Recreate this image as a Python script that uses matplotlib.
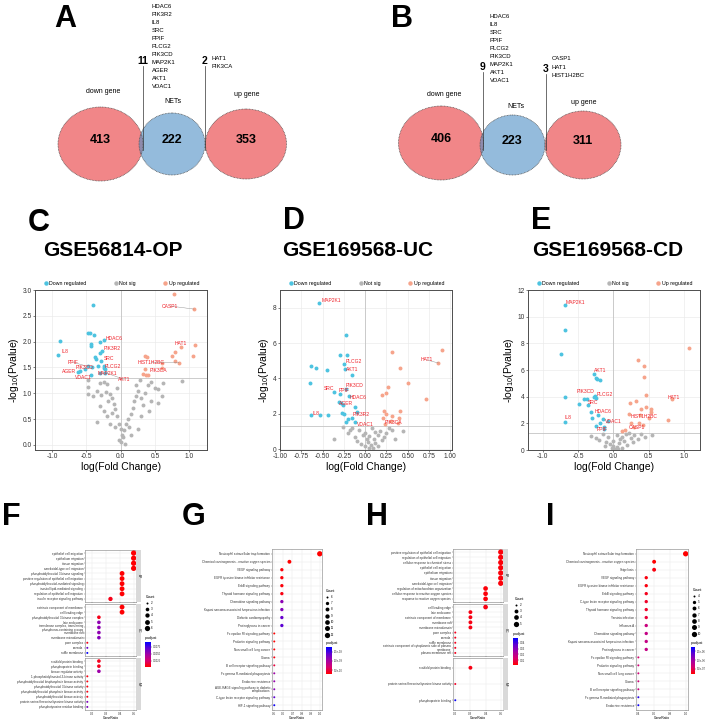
import numpy as np
import matplotlib.pyplot as plt
from matplotlib.patches import Ellipse
from matplotlib.lines import Line2D
from matplotlib.colors import LinearSegmentedColormap, Normalize
from matplotlib.cm import ScalarMappable

plt.rcParams['font.family'] = ['Liberation Sans', 'DejaVu Sans']

W, H = 709, 722

# ------------------------------------------
# VENN DATA
# ------------------------------------------
venn_sets = ['down gene', 'NETs', 'up gene']
venn_a_counts = [413, 222, 353]
venn_a_down = ['HDAC6', 'PIK3R2', 'IL8', 'SRC', 'PPIF', 'PLCG2', 'PIK3CD', 'MAP2K1', 'AGER', 'AKT1', 'VDAC1']
venn_a_up = ['HAT1', 'PIK3CA']
venn_b_counts = [406, 223, 311]
venn_b_down = ['HDAC6', 'IL8', 'SRC', 'PPIF', 'PLCG2', 'PIK3CD', 'MAP2K1', 'AKT1', 'VDAC1']
venn_b_up = ['CASP1', 'HAT1', 'HIST1H2BC']

# ------------------------------------------
# VOLCANO DATA  (logFC, -log10 P)
# ------------------------------------------
c_down_x = [-0.91, -0.89, -0.41, -0.47, -0.45, -0.39, -0.44, -0.43, -0.30, -0.25, -0.30, -0.27, -0.37, -0.36,
            -0.28, -0.25, -0.24, -0.23, -0.33, -0.48, -0.42, -0.62, -0.60, -0.44, -0.30, -0.23, -0.52]
c_down_y = [1.75, 2.02, 2.71, 2.17, 2.16, 2.13, 1.96, 1.91, 2.00, 2.03, 1.78, 1.81, 1.71, 1.67,
            1.63, 1.53, 1.49, 1.46, 1.52, 1.52, 1.50, 1.41, 1.44, 1.35, 1.40, 1.40, 1.47]
c_up_x = [0.78, 1.07, 1.09, 0.88, 0.80, 0.75, 1.05, 0.35, 0.39, 0.79, 0.61, 0.85, 0.35, 0.32, 0.37, 0.40, 0.61]
c_up_y = [2.92, 2.63, 1.94, 1.89, 1.79, 1.73, 1.73, 1.73, 1.71, 1.63, 1.58, 1.59, 1.47, 1.38, 1.35, 1.35, 1.49]
c_ns_x = [-0.48, -0.47, -0.47, -0.30, -0.25, -0.20, -0.35, -0.28, -0.22, -0.15, -0.12, -0.18, -0.10, -0.30, -0.25,
          -0.20, -0.12, -0.08, -0.05, -0.15, -0.08, -0.03, 0.00, 0.02, -0.02, 0.00, 0.03, 0.05, 0.08, 0.10, 0.12,
          0.15, 0.18, 0.20, 0.22, 0.25, 0.22, 0.28, 0.30, 0.32, 0.35, 0.40, 0.45, 0.50, 0.55, 0.60, 0.62, 0.55,
          0.42, 0.30, -0.35, -0.40, 0.15, 0.25, 0.89, 0.45, -0.05, 0.06]
c_ns_y = [1.25, 1.13, 0.99, 1.20, 1.22, 1.18, 1.05, 0.96, 1.02, 0.98, 0.90, 0.85, 0.80, 0.75, 0.65,
          0.55, 0.62, 0.70, 0.55, 0.40, 0.35, 0.40, 0.30, 0.20, 0.10, 0.05, 0.15, 0.28, 0.40, 0.50, 0.35,
          0.60, 0.72, 0.85, 0.95, 1.05, 1.15, 1.25, 0.90, 0.78, 1.00, 1.15, 1.22, 1.10, 1.08, 0.95, 1.20, 0.82,
          0.65, 0.55, 0.45, 0.95, 0.20, 0.30, 1.23, 0.85, 1.10, 0.02]
c_lab_genes = ['IL8', 'HDAC6', 'PIK3R2', 'SRC', 'PLCG2', 'PPIF', 'PIK3CD', 'AGER', 'VDAC1', 'MAP2K1', 'AKT1',
               'CASP1', 'HAT1', 'HIST1H2BC', 'PIK3CA']
c_lab_x = [-0.91, -0.25, -0.27, -0.28, -0.25, -0.48, -0.42, -0.62, -0.44, -0.30, -0.23, 1.07, 0.88, 0.85, 0.40]
c_lab_y = [1.75, 2.03, 1.81, 1.63, 1.53, 1.52, 1.50, 1.41, 1.35, 1.40, 1.40, 2.63, 1.89, 1.59, 1.35]
c_lab_tx = [-0.82, -0.10, -0.12, -0.17, -0.11, -0.70, -0.53, -0.75, -0.54, -0.19, 0.05, 0.72, 0.88, 0.45, 0.55]
c_lab_ty = [1.81, 2.07, 1.86, 1.67, 1.52, 1.60, 1.49, 1.42, 1.30, 1.38, 1.27, 2.69, 1.96, 1.60, 1.44]
c_lab_seg = [0, 0, 0, 0, 0, 1, 0, 0, 0, 0, 1, 1, 0, 1, 0]

d_down_x = [-0.54, -0.23, -0.29, -0.21, -0.25, -0.24, -0.16, -0.64, -0.58, -0.45, -0.65, -0.36, -0.30, -0.23,
            -0.19, -0.31, -0.28, -0.26, -0.12, -0.09, -0.64, -0.53, -0.44, -0.27, -0.25, -0.15, -0.12, -0.20,
            -0.23]
d_down_y = [8.28, 6.46, 5.30, 5.30, 4.80, 4.55, 4.17, 4.68, 4.56, 4.49, 3.73, 3.25, 3.10, 3.40,
            3.00, 2.69, 2.63, 2.50, 2.37, 2.12, 1.92, 1.91, 1.91, 2.03, 1.98, 1.75, 1.55, 1.70,
            1.55]
d_up_x = [0.32, 0.90, 0.86, 0.41, 0.50, 0.27, 0.24, 0.20, 0.71, 0.22, 0.41, 0.25, 0.32, 0.40, 0.21, 0.23,
          0.30, 0.38]
d_up_y = [5.47, 5.62, 4.87, 4.58, 3.73, 3.51, 3.20, 3.07, 2.82, 2.18, 2.16, 1.96, 1.85, 1.78, 1.78, 1.42,
          1.60, 1.50]
d_ns_x = [-0.36, -0.26, -0.18, -0.12, 0.45, -0.07, 0.00, 0.05, 0.10, 0.03, 0.07, 0.00, 0.04, 0.12, 0.15,
          0.18, 0.20, 0.25, 0.28, 0.32, -0.05, -0.10, 0.08, 0.12, 0.22, 0.35, -0.20, -0.15, 0.02, 0.15,
          0.09, -0.03]
d_ns_y = [0.57, 1.27, 1.08, 0.68, 1.02, 1.10, 0.90, 0.75, 0.60, 0.40, 0.25, 0.15, 0.05, 0.35, 0.80,
          1.00, 0.50, 0.90, 1.20, 1.10, 0.30, 0.45, 1.20, 0.95, 0.70, 0.60, 0.90, 1.20, 0.60, 0.20,
          0.05, 0.80]
d_lab_genes = ['MAP2K1', 'PLCG2', 'AKT1', 'HAT1', 'SRC', 'PIK3CD', 'PPIF', 'HDAC6', 'AGER', 'IL8', 'PIK3R2',
               'VDAC1', 'PIK3CA']
d_lab_x = [-0.54, -0.25, -0.24, 0.86, -0.36, -0.23, -0.30, -0.19, -0.28, -0.64, -0.15, -0.12, 0.23]
d_lab_y = [8.28, 4.80, 4.55, 4.87, 3.25, 3.40, 3.10, 3.00, 2.63, 1.92, 1.75, 1.55, 1.42]
d_lab_tx = [-0.40, -0.13, -0.15, 0.72, -0.42, -0.12, -0.25, -0.08, -0.22, -0.58, -0.05, 0.00, 0.33]
d_lab_ty = [8.40, 4.98, 4.49, 5.05, 3.41, 3.62, 3.33, 2.94, 2.60, 2.02, 1.93, 1.40, 1.50]
d_lab_seg = [0, 0, 0, 1, 0, 0, 0, 0, 0, 0, 0, 0, 0]

e_down_x = [-0.68, -0.69, -0.74, -0.27, -0.25, -0.23, -0.19, -0.68, -0.26, -0.27, -0.25, -0.41, -0.37, -0.48,
            -0.36, -0.32, -0.22, -0.15, -0.69, -0.19, -0.25, -0.13, -0.13, -0.08, -0.30]
e_down_y = [10.90, 8.97, 7.17, 5.69, 5.39, 5.34, 5.26, 3.96, 4.06, 3.95, 3.90, 3.83, 3.80, 3.48,
            3.36, 2.86, 2.66, 2.35, 2.13, 2.00, 1.80, 1.73, 1.55, 2.20, 2.40]
e_up_x = [1.07, 0.35, 0.44, 0.44, 0.46, 0.83, 0.23, 0.32, 0.46, 0.40, 0.54, 0.54, 0.22, 0.38, 0.50, 0.30,
          0.37, 0.16, 0.77, 0.25, 0.42, 0.12]
e_up_y = [7.64, 6.77, 6.32, 5.44, 4.11, 3.83, 3.51, 3.66, 3.26, 3.11, 3.06, 2.88, 2.68, 2.65, 2.40, 1.75,
          2.03, 1.50, 2.26, 2.00, 1.90, 1.40]
e_ns_x = [-0.32, -0.25, -0.20, -0.15, -0.10, -0.05, 0.00, 0.02, 0.05, 0.08, 0.10, 0.12, 0.15, 0.18, 0.20,
          0.25, 0.30, 0.35, 0.40, 0.45, 0.55, -0.08, 0.00, 0.05, -0.02, 0.07, 0.28, 0.22, -0.12, 0.13]
e_ns_y = [1.05, 0.90, 0.75, 1.20, 0.60, 0.45, 0.30, 0.10, 0.20, 0.50, 0.80, 1.00, 0.65, 1.20, 0.35,
          0.90, 1.10, 0.80, 1.20, 1.00, 1.15, 1.00, 0.70, 1.10, 0.15, 0.05, 0.60, 1.25, 0.30, 0.15]
e_lab_genes = ['MAP2K1', 'AKT1', 'PIK3CD', 'PLCG2', 'SRC', 'HDAC6', 'HAT1', 'HIST1H2BC', 'IL8', 'VDAC1',
               'PPIF', 'CASP1']
e_lab_x = [-0.68, -0.27, -0.27, -0.26, -0.36, -0.22, 0.83, 0.50, -0.69, -0.19, -0.13, 0.30]
e_lab_y = [10.90, 5.69, 3.95, 4.06, 3.36, 2.66, 3.83, 2.40, 2.13, 2.00, 1.55, 1.75]
e_lab_tx = [-0.54, -0.19, -0.40, -0.12, -0.29, -0.15, 0.86, 0.44, -0.65, 0.00, -0.16, 0.34]
e_lab_ty = [11.07, 6.00, 4.38, 4.13, 3.58, 2.86, 3.96, 2.50, 2.43, 2.13, 1.56, 1.71]
e_lab_seg = [0, 0, 0, 0, 0, 0, 0, 0, 0, 0, 0, 0]

# ------------------------------------------
# ENRICHMENT DATA
# ------------------------------------------
f_bp_terms = ['epithelial cell migration', 'epithelium migration', 'tissue migration',
              'ameboidal-type cell migration', 'phosphatidylinositol 3-kinase signaling',
              'positive regulation of epithelial cell migration', 'phosphatidylinositol-mediated signaling',
              'inositol lipid-mediated signaling', 'regulation of epithelial cell migration',
              'insulin receptor signaling pathway']
f_bp_counts = [6, 6, 6, 6, 5, 5, 5, 5, 5, 4]
f_bp_padj = [0.0004, 0.0004, 0.0004, 0.0004, 0.0004, 0.0004, 0.0004, 0.0004, 0.0004, 0.0008]
f_cc_terms = ['extrinsic component of membrane', 'cell leading edge', 'phosphatidylinositol 3-kinase complex',
              'late endosome', 'transferase complex, transferring\nphosphorus-containing groups', 'membrane raft',
              'membrane microdomain', 'pore complex', 'caveola', 'ruffle membrane']
f_cc_counts = [5, 5, 3, 3, 3, 3, 3, 2, 2, 2]
f_cc_padj = [0.0004, 0.0004, 0.0008, 0.0055, 0.0055, 0.0055, 0.0058, 0.0008, 0.0068, 0.0092]
f_mf_terms = ['scaffold protein binding', 'phosphoprotein binding', 'kinase regulator activity',
              '1-phosphatidylinositol-3-kinase activity', 'phosphatidylinositol bisphosphate kinase activity',
              'phosphatidylinositol 3-kinase activity', 'phosphatidylinositol phosphate kinase activity',
              'phosphatidylinositol kinase activity', 'protein serine/threonine/tyrosine kinase activity',
              'phosphotyrosine residue binding']
f_mf_counts = [3, 3, 3, 2, 2, 2, 2, 2, 2, 2]
f_mf_padj = [0.0009, 0.0009, 0.0050, 0.0006, 0.0006, 0.0006, 0.0007, 0.0008, 0.0060, 0.0062]

g_terms = ['Neutrophil extracellular trap formation', 'Chemical carcinogenesis - reactive oxygen species',
           'VEGF signaling pathway', 'EGFR tyrosine kinase inhibitor resistance', 'ErbB signaling pathway',
           'Thyroid hormone signaling pathway', 'Chemokine signaling pathway',
           'Kaposi sarcoma-associated herpesvirus infection', 'Diabetic cardiomyopathy', 'Proteoglycans in cancer',
           'Fc epsilon RI signaling pathway', 'Prolactin signaling pathway', 'Non-small cell lung cancer', 'Glioma',
           'B cell receptor signaling pathway', 'Fc gamma R-mediated phagocytosis', 'Endocrine resistance',
           'AGE-RAGE signaling pathway in diabetic\ncomplications', 'C-type lectin receptor signaling pathway',
           'HIF-1 signaling pathway']
g_counts = [12, 8, 7, 7, 7, 7, 7, 7, 7, 7, 6, 6, 6, 6, 6, 6, 6, 6, 6, 6]
g_padj = [3.0e-10, 3.0e-10, 3.3e-10, 3.3e-10, 3.3e-10, 3.6e-10, 1.15e-09, 1.2e-09, 1.35e-09, 1.4e-09,
          3.0e-10, 3.0e-10, 3.2e-10, 3.5e-10, 5.0e-10, 1.05e-09, 1.1e-09, 1.15e-09, 1.4e-09, 1.7e-09]

h_bp_terms = ['positive regulation of epithelial cell migration', 'regulation of epithelial cell migration',
              'cellular response to chemical stress', 'epithelial cell migration', 'epithelium migration',
              'tissue migration', 'ameboidal-type cell migration', 'regulation of mitochondrion organization',
              'cellular response to reactive oxygen species', 'response to reactive oxygen species']
h_bp_counts = [5, 5, 5, 5, 5, 5, 5, 4, 4, 4]
h_bp_padj = [0.003] * 10
h_cc_terms = ['cell leading edge', 'late endosome', 'extrinsic component of membrane', 'membrane raft',
              'membrane microdomain', 'pore complex', 'caveola', 'ruffle membrane',
              'extrinsic component of cytoplasmic side of plasma\nmembrane', 'plasma membrane raft']
h_cc_counts = [4, 3, 3, 3, 3, 2, 2, 2, 2, 2]
h_cc_padj = [0.004, 0.004, 0.004, 0.004, 0.004, 0.005, 0.005, 0.005, 0.005, 0.005]
h_mf_terms = ['scaffold protein binding', 'protein serine/threonine/tyrosine kinase activity',
              'phosphoprotein binding']
h_mf_counts = [3, 2, 2]
h_mf_padj = [0.004, 0.006, 0.047]

i_terms = ['Neutrophil extracellular trap formation', 'Chemical carcinogenesis - reactive oxygen species',
           'Shigellosis', 'VEGF signaling pathway', 'EGFR tyrosine kinase inhibitor resistance',
           'ErbB signaling pathway', 'C-type lectin receptor signaling pathway', 'Thyroid hormone signaling pathway',
           'Yersinia infection', 'Influenza A', 'Chemokine signaling pathway',
           'Kaposi sarcoma-associated herpesvirus infection', 'Proteoglycans in cancer',
           'Fc epsilon RI signaling pathway', 'Prolactin signaling pathway', 'Non-small cell lung cancer', 'Glioma',
           'B cell receptor signaling pathway', 'Fc gamma R-mediated phagocytosis', 'Endocrine resistance']
i_counts = [10, 6, 6, 5, 5, 5, 5, 5, 5, 5, 5, 5, 5, 4, 4, 4, 4, 4, 4, 4]
i_padj = [2.0e-07, 2.0e-07, 2.5e-07, 2.5e-07, 2.5e-07, 3.0e-07, 3.5e-07, 3.5e-07, 4.0e-07, 7.0e-07,
          7.5e-07, 7.5e-07, 7.5e-07, 6.0e-07, 6.5e-07, 6.5e-07, 6.5e-07, 7.0e-07, 1.6e-06, 1.7e-06]

# ------------------------------------------
# STYLE
# ------------------------------------------
RED_SET = '#F18688'
BLUE_SET = '#4D8EC5'
DOWN_COL = '#4DC3E0'
UP_COL = '#F6A48B'
NS_COL = '#B5B5B5'
LAB_COL = '#F0232B'
pcmap = LinearSegmentedColormap.from_list('padj', ['#FF0000', '#D8006E', '#A400A4', '#6000D2', '#0000FF'])


def rect(l, t, r, b):
    return [l / W, 1 - b / H, (r - l) / W, (b - t) / H]


fig = plt.figure(figsize=(W / 100, H / 100), dpi=100)
bg = fig.add_axes([0, 0, 1, 1])
bg.set_xlim(0, W)
bg.set_ylim(H, 0)
bg.axis('off')

# panel letters
for lab, (x, y) in zip('ABCDEFGHI', [(65, 19), (402, 19), (39, 223), (294, 221), (541, 221),
                                     (11, 517), (194, 517), (377, 517), (550, 517)]):
    bg.text(x, y, lab, fontsize=22, fontweight='bold', ha='center', va='center')


# ------------------------------------------
# VENN
# ------------------------------------------
def draw_venn(counts, down_genes, up_genes, shapes, set_xy, down_line, up_line):
    for i, (cx, cy, w, h) in enumerate(shapes):
        if i != 1:
            bg.add_patch(Ellipse((cx, cy), w, h, fc=RED_SET, ec='none'))
    cx, cy, w, h = shapes[1]
    bg.add_patch(Ellipse((cx, cy), w, h, fc=BLUE_SET, alpha=0.6, ec='none'))
    for cx, cy, w, h in shapes:
        bg.add_patch(Ellipse((cx, cy), w, h, fill=False, ec='#4a4a4a', lw=0.5, ls=(0, (1.2, 1.0))))
    for (cx, cy, w, h), n in zip(shapes, counts):
        bg.text(cx, cy - 4, str(n), fontsize=9, fontweight='bold', ha='center', va='center')
    for (x, y), name in zip(set_xy, venn_sets):
        bg.text(x, y, name, fontsize=5, ha='center', va='center')
    for genes, (lx, y0, y1, gx, gy) in [(down_genes, down_line), (up_genes, up_line)]:
        bg.plot([lx, lx], [y0, y1], color='#333333', lw=0.5)
        bg.text(lx, y0 - 5, str(len(genes)), fontsize=7.5, fontweight='bold', ha='center', va='center')
        for k, g in enumerate(genes):
            bg.text(gx, gy + 8.1 * k, g, fontsize=4.3, ha='left', va='center')


draw_venn(venn_a_counts, venn_a_down, venn_a_up,
          [(100.5, 144, 85, 74), (172, 144, 66, 62), (246, 144, 81, 70)],
          [(103, 91.5), (173, 101.5), (247, 94)],
          (143, 66, 150, 152, 6), (205, 66, 150, 212, 58))
draw_venn(venn_b_counts, venn_b_down, venn_b_up,
          [(441, 143, 85, 74), (512.5, 145, 65, 60), (583, 145, 76, 68)],
          [(444, 95), (516, 107), (584, 102)],
          (483, 72, 150, 490, 16), (546, 74, 150, 552, 59))


# ------------------------------------------
# VOLCANO
# ------------------------------------------
def volcano(box, down, ns, up, labs, xlim, ylim, xticks, yticks, xfmt, yfmt, title, title_x):
    ax = fig.add_axes(rect(*box))
    ax.scatter(ns[0], ns[1], s=8, color=NS_COL, lw=0, zorder=2)
    ax.scatter(down[0], down[1], s=8, color=DOWN_COL, lw=0, zorder=3)
    ax.scatter(up[0], up[1], s=8, color=UP_COL, lw=0, zorder=3)
    ax.axhline(-np.log10(0.05), color='#C4C4C4', lw=0.6, zorder=1)
    ax.axvline(0, color='#C4C4C4', lw=0.6, zorder=1)
    genes, px, py, tx, ty, seg = labs
    for g, a, b, c, d, s in zip(genes, px, py, tx, ty, seg):
        if s:
            ax.plot([a, c], [b, d], color='#888888', lw=0.3, zorder=3)
        ax.text(c, d, g, color=LAB_COL, fontsize=3.6, ha='center', va='center', zorder=4)
    ax.set_xlim(xlim)
    ax.set_ylim(ylim)
    ax.set_xticks(xticks)
    ax.set_xticklabels([xfmt.format(v) for v in xticks])
    ax.set_yticks(yticks)
    ax.set_yticklabels([yfmt.format(v) for v in yticks])
    ax.grid(color='#EBEBEB', lw=0.5)
    ax.set_axisbelow(True)
    for sp in ax.spines.values():
        sp.set_color('#4D4D4D')
        sp.set_linewidth(0.7)
    ax.tick_params(labelsize=4.8, length=1.5, width=0.5, pad=1, colors='#4D4D4D', labelcolor='#333333')
    ax.set_xlabel('log(Fold Change)', fontsize=7.5, labelpad=1)
    ax.set_ylabel('-log$\\mathregular{_{10}}$(Pvalue)', fontsize=7.5, labelpad=1)
    handles = [Line2D([], [], ls='', marker='o', color=c, markersize=3.2, mew=0) for c in (DOWN_COL, NS_COL, UP_COL)]
    ax.legend(handles, ['Down regulated', 'Not sig', 'Up regulated'], ncol=3, loc='lower center',
              bbox_to_anchor=(0.5, 1.0), frameon=False, fontsize=3.8, handletextpad=0.2, columnspacing=5.0,
              handlelength=1.0, borderpad=0.3)
    bg.text(title_x, 250, title, fontsize=15, fontweight='bold', ha='center', va='center')
    return ax


volcano((35, 290, 207, 450), (c_down_x, c_down_y), (c_ns_x, c_ns_y), (c_up_x, c_up_y),
        (c_lab_genes, c_lab_x, c_lab_y, c_lab_tx, c_lab_ty, c_lab_seg),
        (-1.25, 1.26), (-0.1, 3.0), [-1.0, -0.5, 0.0, 0.5, 1.0], [0, 0.5, 1.0, 1.5, 2.0, 2.5, 3.0],
        '{:.1f}', '{:.1f}', 'GSE56814-OP', 113)
volcano((280, 290, 452, 450), (d_down_x, d_down_y), (d_ns_x, d_ns_y), (d_up_x, d_up_y),
        (d_lab_genes, d_lab_x, d_lab_y, d_lab_tx, d_lab_ty, d_lab_seg),
        (-1.0, 1.02), (-0.05, 9.0), [-1.0, -0.75, -0.5, -0.25, 0.0, 0.25, 0.5, 0.75, 1.0], [0, 2, 4, 6, 8],
        '{:.2f}', '{:.0f}', 'GSE169568-UC', 358)
volcano((528, 290, 700, 450), (e_down_x, e_down_y), (e_ns_x, e_ns_y), (e_up_x, e_up_y),
        (e_lab_genes, e_lab_x, e_lab_y, e_lab_tx, e_lab_ty, e_lab_seg),
        (-1.21, 1.23), (0, 12), [-1.0, -0.5, 0.0, 0.5, 1.0], [0, 2, 4, 6, 8, 10, 12],
        '{:.1f}', '{:.0f}', 'GSE169568-CD', 608)


# ------------------------------------------
# ENRICHMENT DOT PLOTS
# ------------------------------------------
def dot_size(c, cmin, cmax):
    t = (np.asarray(c, dtype=float) - cmin) / (cmax - cmin)
    return (0.475 * (3 + 5 * np.sqrt(t))) ** 2


def dotplot(facets, total, xlim, xticks, xticklabels, norm, levels, leg_xy, cbar_box, cticks, clabels):
    cmin = min(min(f[1]) for f in facets)
    cmax = max(max(f[1]) for f in facets)
    for k, (terms, counts, padj, box, strip) in enumerate(facets):
        ax = fig.add_axes(rect(*box))
        n = len(terms)
        ypos = np.arange(n, 0, -1)
        ratio = np.array(counts) / total
        ax.scatter(ratio, ypos, s=dot_size(counts, cmin, cmax), c=padj, cmap=pcmap, norm=norm, lw=0, zorder=3)
        ax.set_ylim(0.4, n + 0.6)
        ax.set_xlim(xlim)
        ax.set_yticks(ypos)
        ax.set_yticklabels(terms, fontsize=2.3, linespacing=0.9)
        ax.set_xticks(xticks)
        ax.grid(color='#E6E6E6', lw=0.3)
        ax.set_axisbelow(True)
        for sp in ax.spines.values():
            sp.set_color('#7F7F7F')
            sp.set_linewidth(0.4)
        ax.tick_params(length=0.8, width=0.3, pad=0.5, labelsize=2.2, colors='#4D4D4D', labelcolor='#333333')
        if k == len(facets) - 1:
            ax.set_xticklabels(xticklabels)
            ax.set_xlabel('GeneRatio', fontsize=2.4, labelpad=0.2)
        else:
            ax.set_xticklabels([])
        if strip:
            l, t, r, b = box
            sax = fig.add_axes(rect(r, t, r + 5, b))
            sax.set_facecolor('#D9D9D9')
            sax.set_xticks([])
            sax.set_yticks([])
            for sp in sax.spines.values():
                sp.set_visible(False)
            sax.text(0.5, 0.5, strip, rotation=-90, fontsize=2.3, ha='center', va='center',
                     transform=sax.transAxes)
    handles = [Line2D([], [], ls='', marker='o', color='black', mew=0,
                      markersize=float(np.sqrt(dot_size(c, cmin, cmax)))) for c in levels]
    leg = fig.legend(handles, [str(c) for c in levels], title='Count', loc='upper left',
                     bbox_to_anchor=(leg_xy[0] / W, 1 - leg_xy[1] / H), frameon=False, fontsize=2.2,
                     title_fontsize=2.5, labelspacing=0.75, handletextpad=0.4, borderpad=0, handlelength=1.2)
    leg._legend_box.align = 'left'
    cax = fig.add_axes(rect(*cbar_box))
    cb = fig.colorbar(ScalarMappable(norm=norm, cmap=pcmap), cax=cax)
    cb.set_ticks(cticks)
    cb.set_ticklabels(clabels)
    cb.outline.set_visible(False)
    cax.tick_params(labelsize=1.9, length=1, width=0.3, pad=0.6, colors='#333333')
    cax.set_title('p.adjust', fontsize=2.5, loc='left', pad=2)


dotplot([(f_bp_terms, f_bp_counts, f_bp_padj, (85, 550, 136, 602), 'BP'),
         (f_cc_terms, f_cc_counts, f_cc_padj, (85, 604, 136, 656), 'CC'),
         (f_mf_terms, f_mf_counts, f_mf_padj, (85, 658, 136, 710), 'MF')],
        12, (0.15, 0.517), [0.2, 0.3, 0.4, 0.5], ['0.2', '0.3', '0.4', '0.5'],
        Normalize(0.0003, 0.0093), [2, 3, 4, 5, 6], (144, 593),
        (145, 642, 151, 667), [0.0025, 0.005, 0.0075], ['0.0025', '0.0050', '0.0075'])
dotplot([(g_terms, g_counts, g_padj, (272, 549, 322, 710), None)],
        12, (0.475, 1.025), [0.5, 0.6, 0.7, 0.8, 0.9, 1.0], ['0.5', '0.6', '0.7', '0.8', '0.9', '1.0'],
        Normalize(3e-10, 1.75e-9), [6, 7, 8, 9, 10, 11, 12], (324, 587),
        (326, 647, 332, 674), [5e-10, 1e-9, 1.5e-9], ['5.0e-10', '1.0e-09', '1.5e-09'])
dotplot([(h_bp_terms, h_bp_counts, h_bp_padj, (453, 549, 503, 602), 'BP'),
         (h_cc_terms, h_cc_counts, h_cc_padj, (453, 604, 503, 656), 'CC'),
         (h_mf_terms, h_mf_counts, h_mf_padj, (453, 658, 503, 710), 'MF')],
        10, (0.185, 0.515), [0.2, 0.3, 0.4, 0.5], ['0.2', '0.3', '0.4', '0.5'],
        Normalize(0.002, 0.048), [2, 3, 4, 5], (513, 595),
        (513, 638, 518, 665), [0.01, 0.02, 0.03, 0.04], ['0.01', '0.02', '0.03', '0.04'])
dotplot([(i_terms, i_counts, i_padj, (636, 549, 688, 710), None)],
        10, (0.37, 1.03), [0.4, 0.6, 0.8, 1.0], ['0.4', '0.6', '0.8', '1.0'],
        Normalize(2e-7, 1.75e-6), [4, 5, 6, 7, 8, 9, 10], (691, 586),
        (691, 647, 695, 674), [5e-7, 1e-6, 1.5e-6], ['5.0e-07', '1.0e-06', '1.5e-06'])

fig.savefig('out.png', dpi=100)
